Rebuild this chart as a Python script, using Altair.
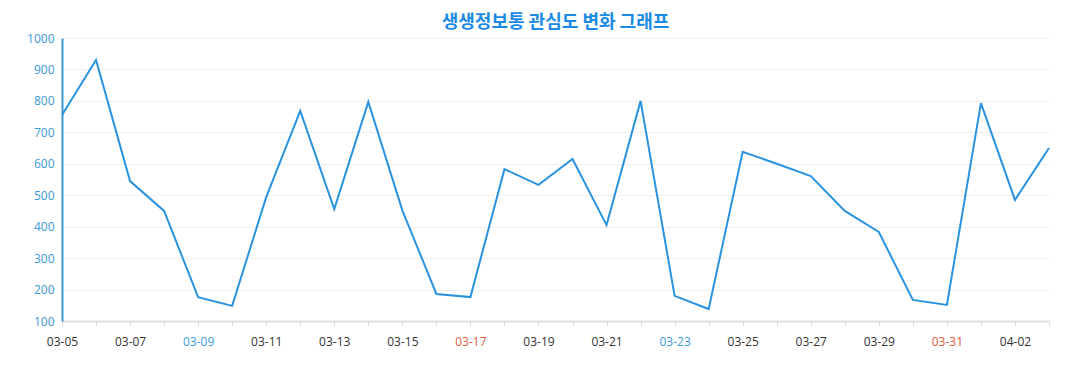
import altair as alt
import pandas as pd

dates = ["03-05", "03-06", "03-07", "03-08", "03-09", "03-10", "03-11", "03-12",
         "03-13", "03-14", "03-15", "03-16", "03-17", "03-18", "03-19", "03-20",
         "03-21", "03-22", "03-23", "03-24", "03-25", "03-26", "03-27", "03-28",
         "03-29", "03-30", "03-31", "04-01", "04-02", "04-03"]
values = [755, 930, 545, 450, 176, 148, 494, 768, 456, 797, 452, 186, 176, 583,
          533, 615, 405, 800, 180, 138, 638, 600, 561, 450, 383, 167, 151, 793,
          485, 650]
shown_labels = dates[::2]
saturdays = ["03-09", "03-23"]
sundays = ["03-17", "03-31"]
y_ticks = [100, 200, 300, 400, 500, 600, 700, 800, 900, 1000]
title_text = "생생정보통 관심도 변화 그래프"

df = pd.DataFrame({"date": dates, "value": values})

def arr(lst):
    return "[" + ",".join("'" + s + "'" for s in lst) + "]"

label_expr = f"indexof({arr(shown_labels)}, datum.value) >= 0 ? datum.value : ''"
color_expr = (f"indexof({arr(saturdays)}, datum.value) >= 0 ? '#3a9ad9' : "
              f"indexof({arr(sundays)}, datum.value) >= 0 ? '#e0593d' : '#333333'")

chart = alt.Chart(df).mark_line(color="#2a93e0", strokeWidth=2).encode(
    x=alt.X("date:O", sort=dates, scale=alt.Scale(type="point", padding=0),
            axis=alt.Axis(title=None, labelAngle=0, labelExpr=label_expr,
                          labelColor=alt.ExprRef(expr=color_expr),
                          labelFont="Open Sans", labelFontSize=12,
                          labelPadding=10, tickSize=5, tickColor="#dddddd",
                          domainColor="#dddddd", domainWidth=2, grid=False,
                          labelOverlap=False)),
    y=alt.Y("value:Q", scale=alt.Scale(domain=[100, 1000], nice=False, zero=False),
            axis=alt.Axis(title=None, values=y_ticks, format="d",
                          labelColor="#3a9ad9",
                          labelFont="Open Sans", labelFontSize=12, labelPadding=8,
                          ticks=False, domainColor="#3a9ad9", domainWidth=2,
                          gridColor="#f0f0f0", grid=True)),
).properties(
    width=987, height=283,
    title=alt.TitleParams(title_text, font="Noto Sans CJK KR", fontSize=18,
                          fontWeight="bold", color="#1a8ae5", anchor="middle",
                          offset=0),
    autosize=alt.AutoSizeParams(type="none"),
    padding={"left": 54, "top": 30, "right": 20, "bottom": 40},
).configure_view(stroke=None)

chart.save("out.html", embed_options={"renderer": "svg", "actions": False})
